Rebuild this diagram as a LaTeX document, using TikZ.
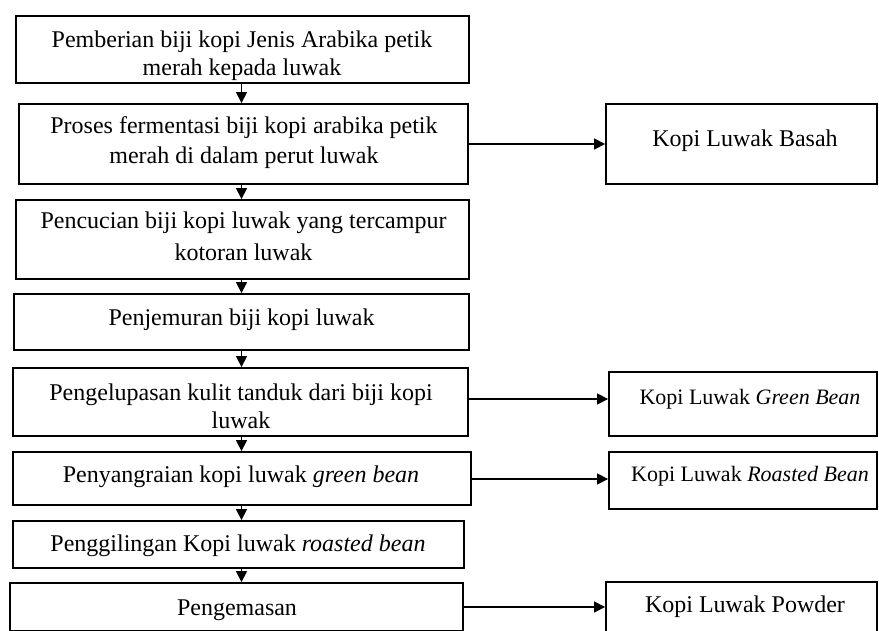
\documentclass[tikz,border=0pt]{standalone}
\usepackage{fontspec}
\setmainfont{Liberation Serif}
\usetikzlibrary{arrows.meta}
\newcommand\mystrut{\rule{0pt}{18pt}}
\begin{document}
\begin{tikzpicture}[x=1pt,y=-1pt,
  box/.style={draw, line width=1.8pt, rectangle, inner sep=0pt},
  txt/.style={anchor=north, inner sep=0pt, align=center, font=\fontsize{24}{28}\selectfont},
  smalltxt/.style={txt, font=\fontsize{22}{26}\selectfont},
  arr/.style={line width=1.3pt, -{Triangle[length=11pt,width=11pt]}}]
\useasboundingbox (0,0) rectangle (879,630);
% left column boxes
\node[box, minimum width=453, minimum height=67] (b1) at (242.5,49.5) {};
\node[box, minimum width=449, minimum height=80] (b2) at (243.5,144) {};
\node[box, minimum width=453, minimum height=79] (b3) at (242.5,239.5) {};
\node[box, minimum width=455, minimum height=56] (b4) at (241.5,322) {};
\node[box, minimum width=455, minimum height=68] (b5) at (240.5,402) {};
\node[box, minimum width=458, minimum height=53] (b6) at (242,478.5) {};
\node[box, minimum width=451, minimum height=47] (b7) at (238.5,544.5) {};
\node[box, minimum width=453, minimum height=48] (b8) at (236.5,607) {};
% right column boxes
\node[box, minimum width=271, minimum height=80] (r1) at (741.5,144) {};
\node[box, minimum width=268, minimum height=64] (r2) at (743,404) {};
\node[box, minimum width=268, minimum height=57] (r3) at (743,480.5) {};
\node[box, minimum width=271, minimum height=50] (r4) at (741.5,607) {};
% texts
\node[txt] (t1) at (242,29) {\mystrut Pemberian biji kopi Jenis Arabika petik\\merah kepada luwak};
\node[txt, font=\fontsize{24}{30}\selectfont] (t2) at (244,115.3) {\mystrut Proses fermentasi biji kopi arabika petik\\merah di dalam perut luwak};
\node[txt, font=\fontsize{24}{32}\selectfont] (t3) at (243.5,210) {\mystrut Pencucian biji kopi luwak yang tercampur\\kotoran luwak};
\node[txt] (t4) at (241.5,307) {\mystrut Penjemuran biji kopi luwak};
\node[txt] (t5) at (241,382) {\mystrut Pengelupasan kulit tanduk dari biji kopi\\luwak};
\node[txt] (t6) at (241,464.7) {\mystrut Penyangraian kopi luwak \textit{green bean}};
\node[txt] (t7) at (238,533.7) {\mystrut Penggilingan Kopi luwak \textit{roasted bean}};
\node[txt] (t8) at (237,597) {\mystrut Pengemasan};
\node[txt] (s1) at (745,128) {\mystrut Kopi Luwak Basah};
\node[smalltxt] (s2) at (750,386) {\mystrut Kopi Luwak \textit{Green Bean}};
\node[smalltxt] (s3) at (750,463) {\mystrut Kopi Luwak \textit{Roasted Bean}};
\node[txt] (s4) at (745,594) {\mystrut Kopi Luwak Powder};
% vertical arrows
\coordinate (ax) at (241.5,0);
\draw[arr] (b1.south -| ax) -- (b2.north -| ax);
\draw[arr] (b2.south -| ax) -- (b3.north -| ax);
\draw[arr] (b3.south -| ax) -- (b4.north -| ax);
\draw[arr] (b4.south -| ax) -- (b5.north -| ax);
\draw[arr] (b5.south -| ax) -- (b6.north -| ax);
\draw[arr] (b6.south -| ax) -- (b7.north -| ax);
\draw[arr] (b7.south -| ax) -- (b8.north -| ax);
% horizontal arrows
\draw[arr] (b2.east) -- (b2.east -| r1.west);
\draw[arr] ([yshift=3pt]b5.east) -- ([yshift=3pt]b5.east -| r2.west);
\draw[arr] ([yshift=-0.5pt]b6.east) -- ([yshift=-0.5pt]b6.east -| r3.west);
\draw[arr] (b8.east) -- (b8.east -| r4.west);
\end{tikzpicture}
\end{document}
